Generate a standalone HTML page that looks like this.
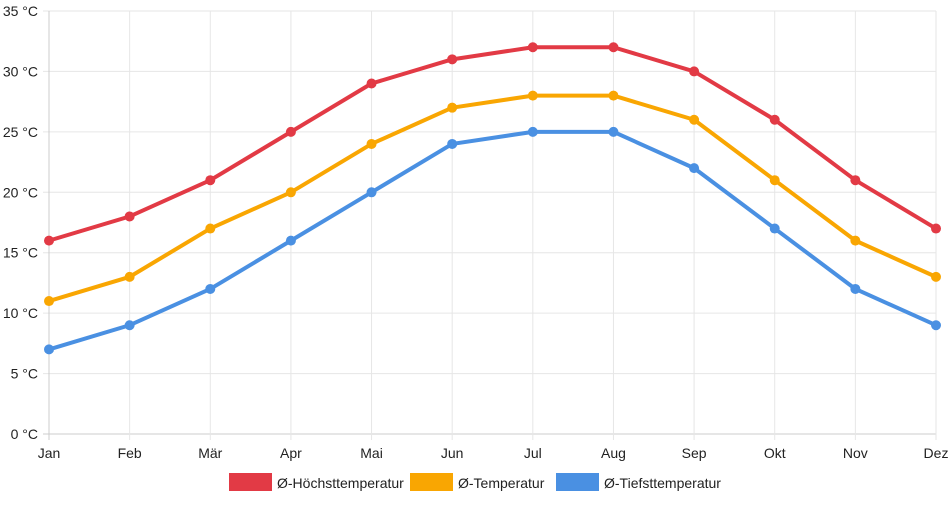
<!DOCTYPE html>
<html><head><meta charset="utf-8"><style>
body{margin:0;background:#fff;font-family:"Liberation Sans",sans-serif}
svg text{font-family:"Liberation Sans",sans-serif;font-size:14px;fill:#222}
</style></head><body>
<svg id="c" width="952" height="500"></svg>
<script>
const months=["Jan","Feb","Mär","Apr","Mai","Jun","Jul","Aug","Sep","Okt","Nov","Dez"];
const highTemps=[16,18,21,25,29,31,32,32,30,26,21,17];
const meanTemps=[11,13,17,20,24,27,28,28,26,21,16,13];
const lowTemps=[7,9,12,16,20,24,25,25,22,17,12,9];
const yTicks=[0,5,10,15,20,25,30,35];
const seriesNames=["Ø-Höchsttemperatur","Ø-Temperatur","Ø-Tiefsttemperatur"];
const NS="http://www.w3.org/2000/svg";
const svg=document.getElementById('c');
const x0=49,x1=936,y0=434,y1=11;
const xs=i=>x0+(x1-x0)*i/(months.length-1);
const ys=v=>y0-(y0-y1)*v/35;
function mk(t,a){const e=document.createElementNS(NS,t);for(const k in a)e.setAttribute(k,a[k]);svg.appendChild(e);return e;}
yTicks.forEach(v=>{
 const l=mk('line',{x1:x0-6,x2:x1,y1:ys(v),y2:ys(v),stroke:v===0?'#ccc':'#e6e6e6'});
 
 
 const t=mk('text',{x:38,y:ys(v)+5,'text-anchor':'end'});t.textContent=v+' °C';
 
 
});
months.forEach((m,i)=>{
 const l=mk('line',{x1:xs(i),x2:xs(i),y1:y1,y2:y0+6,stroke:i===0?'#ccc':'#e6e6e6'});
 
 
 const t=mk('text',{x:xs(i),y:y0+24,'text-anchor':'middle'});t.textContent=m;
 
 
});
const colors=['#e23a45','#f9a602','#4a90e2'];
[highTemps,meanTemps,lowTemps].forEach((d,s)=>{
 const p=mk('polyline',{points:d.map((v,i)=>xs(i)+','+ys(v)).join(' '),fill:'none',stroke:colors[s],'stroke-width':4,'stroke-linejoin':'round'});
 
 
 d.forEach((v,i)=>{const c=mk('circle',{cx:xs(i),cy:ys(v),r:5,fill:colors[s]});
  
  });
});
const lx=[229,410,556];
seriesNames.forEach((n,s)=>{
 const r=mk('rect',{x:lx[s],y:473,width:43,height:18,fill:colors[s]});
 
 
 const t=mk('text',{x:lx[s]+48,y:488});t.textContent=n;
 
 
});
</script>
</body></html>
